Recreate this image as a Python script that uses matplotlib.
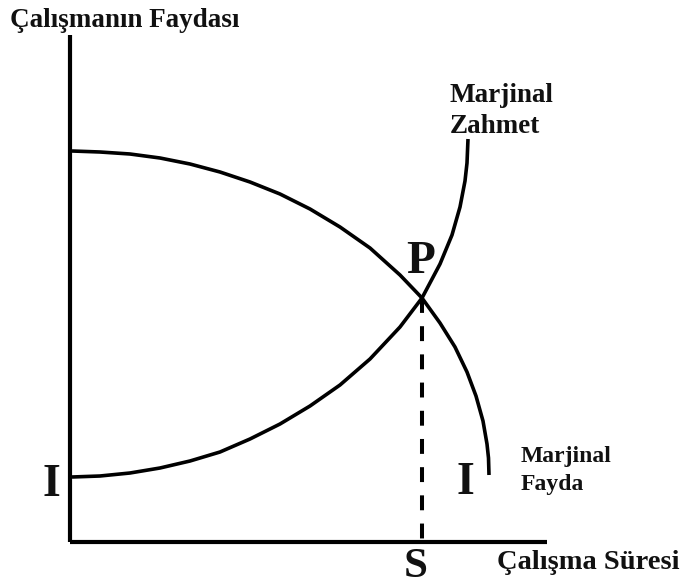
import matplotlib
matplotlib.use("Agg")
import matplotlib.pyplot as plt

# Curves (pixel-like coordinates, y grows downward)
fayda_x = [72, 100, 130, 160, 190, 220, 250, 280, 310, 340, 370, 400, 422,
           440, 455, 467, 476, 483, 487, 488.5, 489]
fayda_y = [151, 152, 154, 158, 164, 172, 182, 194, 209, 227, 248, 275, 298,
           323, 347, 372, 396, 421, 444, 458, 475]

zahmet_x = [72, 100, 130, 160, 190, 220, 250, 280, 310, 340, 370, 400, 422,
            440, 452, 460, 465, 467, 468]
zahmet_y = [477, 476, 473, 468, 461, 452, 439, 424, 406, 385, 359, 327, 298,
            264, 235, 207, 181, 163, 139]

# Axis extents
y_axis_x = [70, 70]
y_axis_y = [35, 542]
x_axis_x = [70, 547]
x_axis_y = [542, 542]

# Equilibrium point P and its projection S
p_x = 422
p_y = 298

labels = {
    "title": "Çalışmanın Faydası",
    "xlabel": "Çalışma Süresi",
    "mz1": "Marjinal", "mz2": "Zahmet",
    "mf1": "Marjinal", "mf2": "Fayda",
    "P": "P", "S": "S", "I": "I",
}

W, H = 699, 587
fig = plt.figure(figsize=(W / 100, H / 100), dpi=100)
ax = fig.add_axes([0, 0, 1, 1])
ax.set_xlim(0, W)
ax.set_ylim(H, 0)
ax.axis("off")

fam = ["Liberation Serif", "DejaVu Serif"]
col = "#111111"

ax.plot(y_axis_x, y_axis_y, color="black", lw=3.0, solid_capstyle="butt")
ax.plot(x_axis_x, x_axis_y, color="black", lw=3.0, solid_capstyle="butt")

ax.plot(fayda_x, fayda_y, color="black", lw=2.6, solid_joinstyle="round", solid_capstyle="butt")
ax.plot(zahmet_x, zahmet_y, color="black", lw=2.6, solid_joinstyle="round", solid_capstyle="butt")

ax.plot([p_x, p_x], [p_y, y_axis_y[1]], color="black", lw=2.9,
        linestyle=(0, (3.7, 3.3)), dash_capstyle="butt")

def txt(x, y, s, size):
    ax.text(x, y, s, fontsize=size, fontweight="bold", family=fam, color=col,
            ha="left", va="baseline")

txt(10, 27, labels["title"], 19.5)
txt(497, 569, labels["xlabel"], 20.5)
txt(450, 102, labels["mz1"], 19.5)
txt(450, 133, labels["mz2"], 19.5)
txt(521, 462, labels["mf1"], 17)
txt(521, 490, labels["mf2"], 17)
txt(406, 273, labels["P"], 34)
txt(404, 577, labels["S"], 31)
txt(456, 494, labels["I"], 33)
txt(42, 496, labels["I"], 33)

fig.savefig("out.png", dpi=100)
